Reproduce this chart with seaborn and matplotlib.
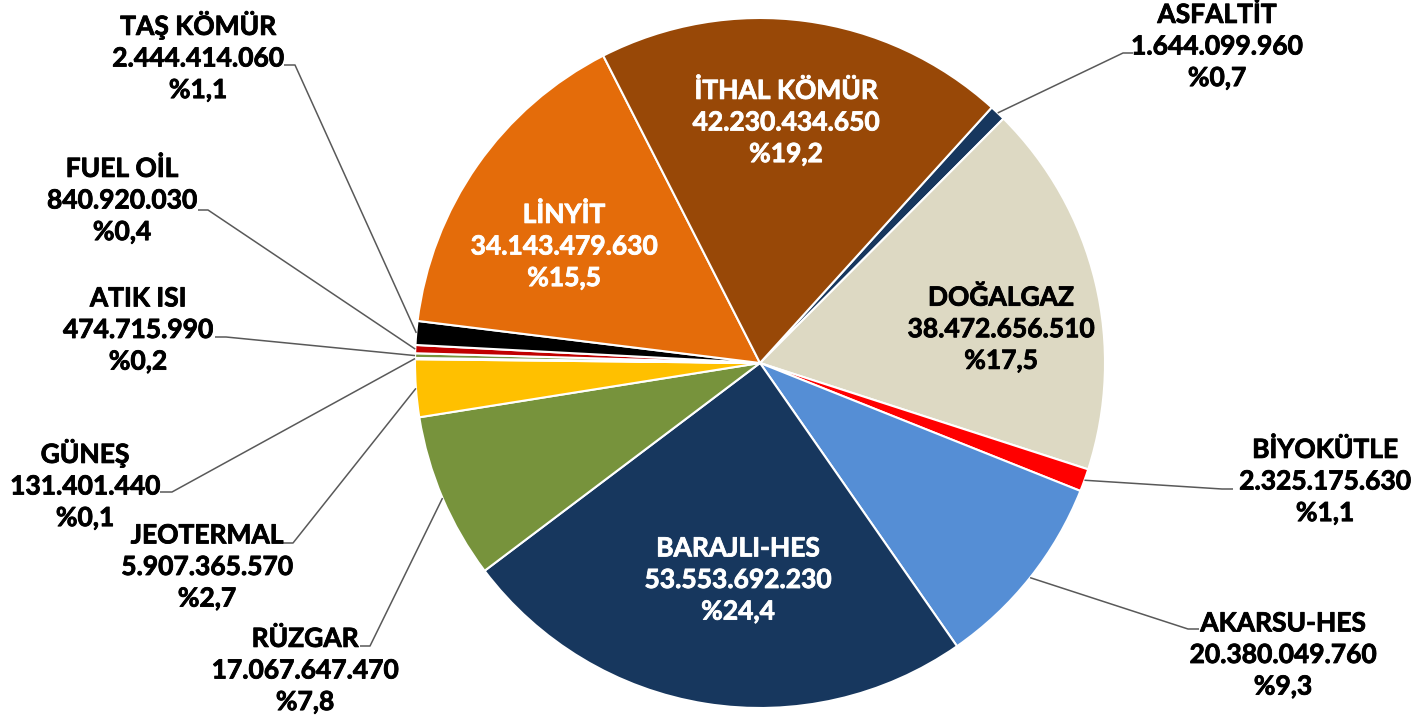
import matplotlib
matplotlib.use("Agg")
import matplotlib.pyplot as plt
import matplotlib.patheffects as pe
import seaborn as sns
import numpy as np

# ---------------- data ----------------
categories = ["ASFALTİT", "DOĞALGAZ", "BİYOKÜTLE", "AKARSU-HES", "BARAJLI-HES",
              "RÜZGAR", "JEOTERMAL", "GÜNEŞ", "ATIK ISI", "FUEL OİL",
              "TAŞ KÖMÜR", "LİNYİT", "İTHAL KÖMÜR"]
values = [1644099960, 38472656510, 2325175630, 20380049760, 53553692230,
          17067647470, 5907365570, 131401440, 474715990, 840920030,
          2444414060, 34143479630, 42230434650]
colors = ["#17375E", "#DDD9C3", "#FF0000", "#558ED5", "#17375E",
          "#77933C", "#FFC000", "#7F7F7F", "#77933C", "#C00000",
          "#000000", "#E46C0A", "#984807"]

# ---------------- layout (image pixel coords, y down) ----------------
W, H = 1412, 721
CX, CY, R = 760, 363, 345
START = 47.8
inside = {"DOĞALGAZ": ((1001, 329), "black"),
          "BARAJLI-HES": ((738, 580), "white"),
          "LİNYİT": ((564, 246), "white"),
          "İTHAL KÖMÜR": ((786, 122), "white")}
# outside: text center, leader horizontal segment (x0, x1, y)
outside = {"ASFALTİT": ((1217, 46), (1133, 1123, 53)),
           "BİYOKÜTLE": ((1325, 481), (1233, 1222, 489)),
           "AKARSU-HES": ((1283, 655), (1199, 1188, 629)),
           "RÜZGAR": ((305, 670), (360, 370, 646)),
           "JEOTERMAL": ((207, 567), (282, 293, 543)),
           "GÜNEŞ": ((85, 484), (160, 172, 492)),
           "ATIK ISI": ((138, 330), (215, 226, 337)),
           "FUEL OİL": ((122, 200), (198, 208, 210)),
           "TAŞ KÖMÜR": ((198, 56), (284, 295, 65))}

sns.set_theme(style="white")
plt.rcParams["font.family"] = ["Lato", "DejaVu Sans"]

fig = plt.figure(figsize=(W / 100, H / 100), dpi=100)
ax = fig.add_axes([0, 0, 1, 1])

def yd(y):
    return H - y

wedges, _ = ax.pie(values, colors=colors, startangle=START, counterclock=False,
                   center=(CX, yd(CY)), radius=R,
                   wedgeprops=dict(edgecolor="white", linewidth=1.5))
ax.set_xlim(0, W)
ax.set_ylim(0, H)
ax.set_aspect("equal")
ax.axis("off")

total = sum(values)

def fmt_num(v):
    return f"{v:,}".replace(",", ".")

def fmt_pct(v):
    return "%" + f"{100 * v / total:.1f}".replace(".", ",")

FS = 19
LS = 1.38
for name, val, w in zip(categories, values, wedges):
    txt = f"{name}\n{fmt_num(val)}\n{fmt_pct(val)}"
    if name in inside:
        (tx, ty), col = inside[name]
    else:
        (tx, ty), (x0, x1, ly) = outside[name]
        col = "black"
        mid = np.deg2rad((w.theta1 + w.theta2) / 2)
        px = w.center[0] + w.r * np.cos(mid)
        py = w.center[1] + w.r * np.sin(mid)
        ax.plot([x0, x1, px], [yd(ly), yd(ly), py], color="#595959", lw=1.1,
                solid_capstyle="butt")
    ax.text(tx, yd(ty), txt, ha="center", va="center", fontsize=FS,
            fontweight="bold", color=col, linespacing=LS,
            path_effects=[pe.withStroke(linewidth=0.6, foreground=col)])

fig.savefig("out.png", dpi=100, facecolor="white")
